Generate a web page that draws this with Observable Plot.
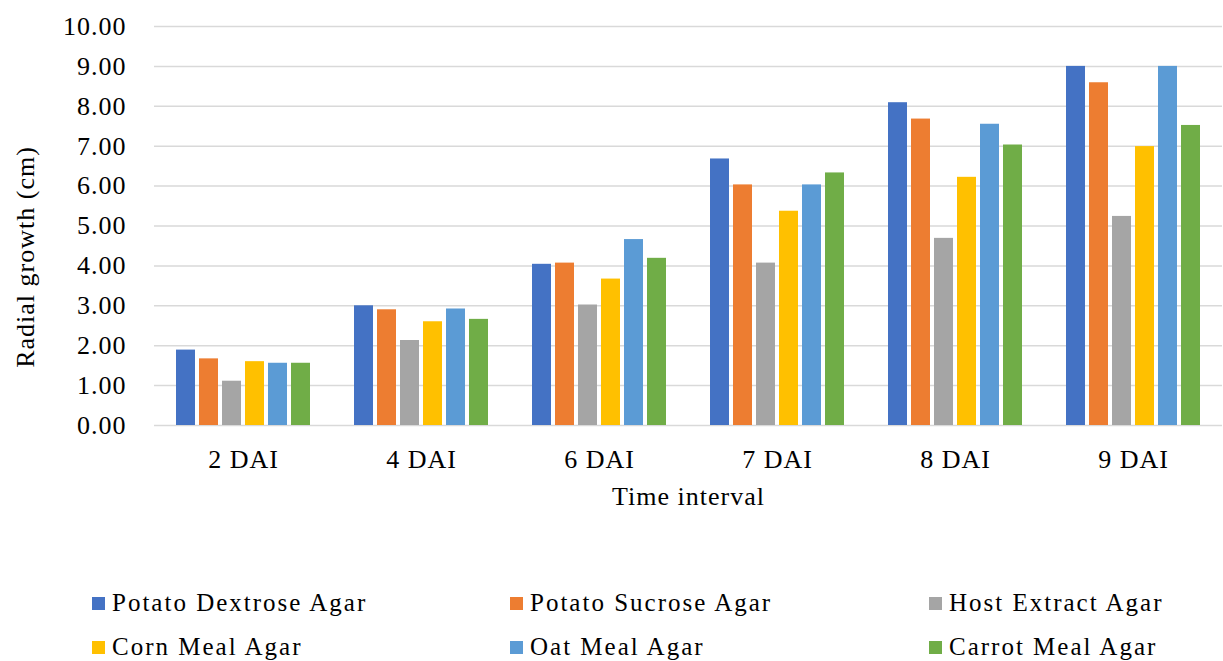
<!DOCTYPE html>
<html>
<head>
<meta charset="utf-8">
<script src="https://cdn.jsdelivr.net/npm/d3@7"></script>
<script src="https://cdn.jsdelivr.net/npm/@observablehq/plot@0.6"></script>
<style>
  body { margin: 0; background: #fff; }
  #chart svg { display: block; }
  #legend {
    display: grid;
    grid-template-columns: 418px 419px 290px;
    row-gap: 18px;
    margin-left: 92px;
    margin-top: 60px;
    font-family: "Liberation Serif", "Times New Roman", serif;
    font-size: 25px;
    letter-spacing: 2px;
    color: #000;
  }
  .item { display: flex; align-items: center; line-height: 26px; white-space: nowrap; }
  .sw { width: 13px; height: 13px; margin-right: 7px; flex: none; }
</style>
</head>
<body>
<div id="chart"></div>
<div id="legend"></div>
<script>
// Sampling times (days after inoculation) and culture media
const intervals = ["2 DAI", "4 DAI", "6 DAI", "7 DAI", "8 DAI", "9 DAI"];
const media = ["Potato Dextrose Agar", "Potato Sucrose Agar", "Host Extract Agar",
               "Corn Meal Agar", "Oat Meal Agar", "Carrot Meal Agar"];
const colors = ["#4472C4", "#ED7D31", "#A5A5A5", "#FFC000", "#5B9BD5", "#70AD47"];

// Radial growth (cm) per medium, one value per interval
const potatoDextrose = [1.89, 3.00, 4.04, 6.68, 8.09, 9.00];
const potatoSucrose  = [1.67, 2.90, 4.07, 6.03, 7.68, 8.59];
const hostExtract    = [1.11, 2.13, 3.02, 4.07, 4.69, 5.24];
const cornMeal       = [1.60, 2.60, 3.67, 5.37, 6.22, 6.99];
const oatMeal        = [1.56, 2.92, 4.66, 6.03, 7.55, 9.00];
const carrotMeal     = [1.56, 2.66, 4.19, 6.33, 7.03, 7.52];

const yTicks = [0, 1, 2, 3, 4, 5, 6, 7, 8, 9, 10];

const series = [potatoDextrose, potatoSucrose, hostExtract, cornMeal, oatMeal, carrotMeal];
const rows = [];
intervals.forEach((interval, i) => {
  media.forEach((medium, j) => {
    rows.push({ interval, medium, value: series[j][i] });
  });
});

const chart = Plot.plot({
  width: 1223,
  height: 530,
  marginLeft: 153,
  marginRight: 1,
  marginTop: 26,
  marginBottom: 105,
  style: {
    fontFamily: "Liberation Serif, Times New Roman, serif",
    fontSize: "26px",
    letterSpacing: "1px",
    color: "#000",
    background: "transparent"
  },
  // contiguous facets so that the gridlines run unbroken; the gaps between groups come from x padding
  fx: { domain: intervals, paddingInner: 0, paddingOuter: 0 },
  x: { domain: media, paddingInner: 0.16, paddingOuter: 0.8, axis: null },
  y: { domain: [0, 10] },
  color: { domain: media, range: colors },
  marks: [
    Plot.gridY(yTicks, { stroke: "#d9d9d9", strokeOpacity: 1, strokeWidth: 1.5 }),
    Plot.barY(rows, { fx: "interval", x: "medium", y: "value", fill: "medium" }),
    Plot.axisY(yTicks, {
      tickSize: 0, tickPadding: 28, tickFormat: d => d.toFixed(2),
      label: null, fontSize: 26
    }),
    Plot.text(["Radial growth (cm)"], {
      facet: "super", frameAnchor: "left", textAnchor: "middle", lineAnchor: "middle",
      dx: -129, dy: 31, rotate: -90, fontSize: 26, fill: "#000"
    }),
    Plot.axisFx({
      anchor: "bottom", tickSize: 0, tickPadding: 24, fontSize: 26,
      label: "Time interval", labelAnchor: "center", labelArrow: "none", labelOffset: 79
    })
  ]
});
document.getElementById("chart").appendChild(chart);

// Legend below the chart
const legend = document.getElementById("legend");
media.forEach((m, i) => {
  const item = document.createElement("div");
  item.className = "item";
  const sw = document.createElement("span");
  sw.className = "sw";
  sw.style.background = colors[i];
  const label = document.createElement("span");
  label.textContent = m;
  item.append(sw, label);
  legend.appendChild(item);
});
</script>
</body>
</html>
